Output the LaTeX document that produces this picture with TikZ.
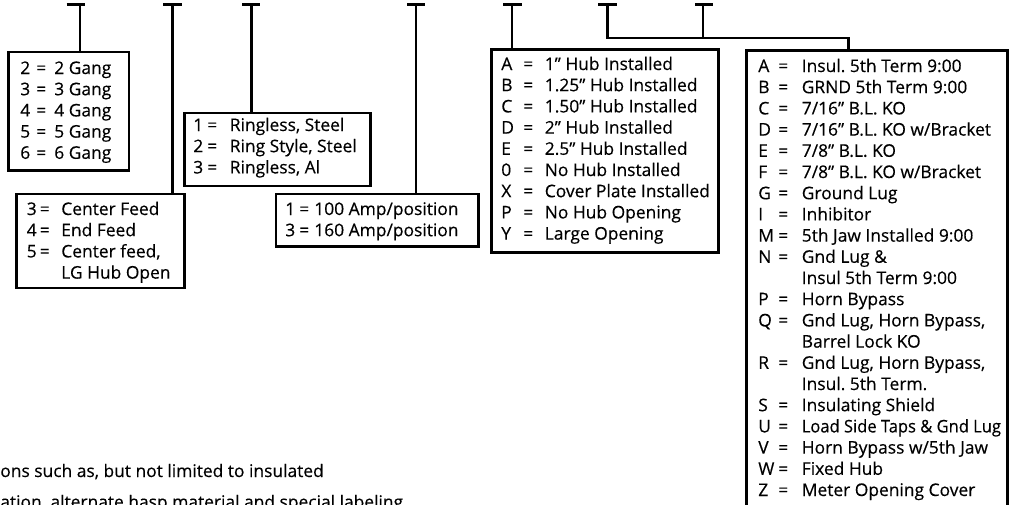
\documentclass[tikz,border=0pt]{standalone}
\usepackage{fontspec}
\setmainfont{Open Sans}[FakeBold=0.35]
\usetikzlibrary{fit}
\frenchspacing
\newcommand{\eqrow}[4]{\makebox[#1pt][l]{#3}\makebox[#2pt][l]{=}#4}
\newcommand{\controw}[3]{\hspace*{\dimexpr#1pt+#2pt\relax}#3}
\begin{document}
\begin{tikzpicture}[x=1pt,y=-1pt,line width=2.6pt,
  boxst/.style={draw,line width=2.6pt,inner sep=0pt},
  txt/.style={inner sep=0pt,anchor=base west,font=\fontsize{17.4}{21.2}\selectfont}]
\useasboundingbox (0,0) rectangle (1012,504);
\clip (0,0) rectangle (1012,504);
% stub tops
\coordinate (s1) at (80,4.2);
\coordinate (s2) at (172.5,4.2);
\coordinate (s3) at (251.5,4.2);
\coordinate (s4) at (416,4.2);
\coordinate (s5) at (512,4.2);
\coordinate (s6) at (607.5,4.2);
\coordinate (s7) at (703,4.2);
\coordinate (j) at (848.7,38);
% boxes
\node[boxst,fit={(8.7,52) (129,170.7)}] (gang) {};
\node[boxst,fit={(16.3,194) (184.7,288)}] (feed) {};
\node[boxst,fit={(184.3,113) (370.3,186)}] (ring) {};
\node[boxst,fit={(276,194) (478.3,246.3)}] (amp) {};
\node[boxst,fit={(491.3,49.7) (718.7,252.3)}] (hub) {};
\node[boxst,fit={(746.3,50.7) (1007.3,530)}] (opt) {};
% bars
\draw ([xshift=-13.5pt]s1) -- ([xshift=5pt]s1);
\draw ([xshift=-9.5pt]s2) -- ([xshift=9.5pt]s2);
\draw ([xshift=-9.5pt]s3) -- ([xshift=8.5pt]s3);
\draw ([xshift=-9pt]s4) -- ([xshift=9pt]s4);
\draw ([xshift=-9pt]s5) -- ([xshift=10pt]s5);
\draw ([xshift=-9.5pt]s6) -- ([xshift=9.5pt]s6);
\draw ([xshift=-8pt]s7) -- ([xshift=10pt]s7);
% connectors
\draw (s1) -- (s1 |- gang.north);
\draw (s2) -- (s2 |- feed.north);
\draw (s3) -- (s3 |- ring.north);
\draw (s4) -- (s4 |- amp.north);
\draw (s5) -- (s5 |- hub.north);
\draw (s6) |- (j) -- (j |- opt.north);
\draw (s7) -- (s7 |- j);
% texts
\node[txt] (gangtxt) at (19,74) {\begin{tabular}[t]{@{}l@{}}
\eqrow{16}{18}{2}{2 Gang}\\
\eqrow{16}{18}{3}{3 Gang}\\
\eqrow{16}{18}{4}{4 Gang}\\
\eqrow{16}{18}{5}{5 Gang}\\
\eqrow{16}{18}{6}{6 Gang}
\end{tabular}};
\node[txt] (feedtxt) at (25.5,215) {\begin{tabular}[t]{@{}l@{}}
\eqrow{13}{21.5}{3}{Center Feed}\\
\eqrow{13}{21.5}{4}{End Feed}\\
\eqrow{13}{21.5}{5}{Center feed,}\\
\controw{13}{21.5}{LG Hub Open}
\end{tabular}};
\node[txt] (ringtxt) at (192,131) {\begin{tabular}[t]{@{}l@{}}
\eqrow{14}{22.5}{1}{Ringless, Steel}\\
\eqrow{14}{22.5}{2}{Ring Style, Steel}\\
\eqrow{14}{22.5}{3}{Ringless, Al}
\end{tabular}};
\node[txt] (amptxt) at (284,215) {\begin{tabular}[t]{@{}l@{}}
\eqrow{14}{15}{1}{100 Amp/position}\\
\eqrow{14}{15}{3}{160 Amp/position}
\end{tabular}};
\node[txt] (hubtxt) at (500,70) {\begin{tabular}[t]{@{}l@{}}
\eqrow{22}{21.5}{A}{1” Hub Installed}\\
\eqrow{22}{21.5}{B}{1.25” Hub Installed}\\
\eqrow{22}{21.5}{C}{1.50” Hub Installed}\\
\eqrow{22}{21.5}{D}{2” Hub Installed}\\
\eqrow{22}{21.5}{E}{2.5” Hub Installed}\\
\eqrow{22}{21.5}{0}{No Hub Installed}\\
\eqrow{22}{21.5}{X}{Cover Plate Installed}\\
\eqrow{22}{21.5}{P}{No Hub Opening}\\
\eqrow{22}{21.5}{Y}{Large Opening}
\end{tabular}};
\node[txt] (opttxt) at (757,72) {\begin{tabular}[t]{@{}l@{}}
\eqrow{20}{23.5}{A}{Insul. 5th Term 9:00}\\
\eqrow{20}{23.5}{B}{GRND 5th Term 9:00}\\
\eqrow{20}{23.5}{C}{7/16” B.L. KO}\\
\eqrow{20}{23.5}{D}{7/16” B.L. KO w/Bracket}\\
\eqrow{20}{23.5}{E}{7/8” B.L. KO}\\
\eqrow{20}{23.5}{F}{7/8” B.L. KO w/Bracket}\\
\eqrow{20}{23.5}{G}{Ground Lug}\\
\eqrow{20}{23.5}{I}{Inhibitor}\\
\eqrow{20}{23.5}{M}{5th Jaw Installed 9:00}\\
\eqrow{20}{23.5}{N}{Gnd Lug \&}\\
\controw{20}{23.5}{Insul 5th Term 9:00}\\
\eqrow{20}{23.5}{P}{Horn Bypass}\\
\eqrow{20}{23.5}{Q}{Gnd Lug, Horn Bypass,}\\
\controw{20}{23.5}{Barrel Lock KO}\\
\eqrow{20}{23.5}{R}{Gnd Lug, Horn Bypass,}\\
\controw{20}{23.5}{Insul. 5th Term.}\\
\eqrow{20}{23.5}{S}{Insulating Shield}\\
\eqrow{20}{23.5}{U}{\scalebox{0.95}[1]{Load Side Taps \& Gnd Lug}}\\
\eqrow{20}{23.5}{V}{Horn Bypass w/5th Jaw}\\
\eqrow{20}{23.5}{W}{Fixed Hub}\\
\eqrow{20}{23.5}{Z}{Meter Opening Cover}
\end{tabular}};
\node[txt] (note1) at (-1,477) {ons such as, but not limited to insulated};
\node[txt] (note2) at (-1,508) {ation, alternate hasp material and special labeling};
\end{tikzpicture}
\end{document}
